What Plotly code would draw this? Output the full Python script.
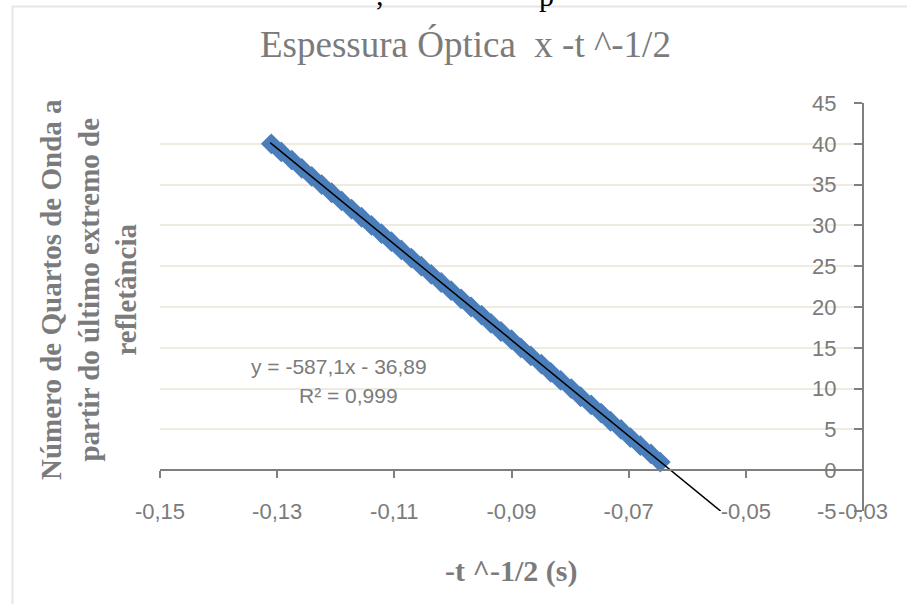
import plotly.graph_objects as go

# ---- data ----
quartos = [1, 2, 3, 4, 5, 6, 7, 8, 9, 10, 11, 12, 13, 14, 15, 16, 17, 18, 19, 20,
           21, 22, 23, 24, 25, 26, 27, 28, 29, 30, 31, 32, 33, 34, 35, 36, 37, 38, 39, 40]
t_inv_sqrt = [-0.0646, -0.0662, -0.0680, -0.0697, -0.0713, -0.0731, -0.0747, -0.0764,
              -0.0782, -0.0798, -0.0816, -0.0833, -0.0849, -0.0867, -0.0884, -0.0900,
              -0.0918, -0.0935, -0.0951, -0.0969, -0.0986, -0.1003, -0.1020, -0.1037,
              -0.1054, -0.1071, -0.1088, -0.1105, -0.1122, -0.1139, -0.1156, -0.1173,
              -0.1190, -0.1207, -0.1224, -0.1241, -0.1258, -0.1275, -0.1293, -0.1310]

trend_slope = -587.1
trend_intercept = -36.89
trend_x = [-0.1312, -0.0543]
trend_y = [trend_slope * v + trend_intercept for v in trend_x]

x_tickvals = [-0.15, -0.13, -0.11, -0.09, -0.07, -0.05, -0.03]
x_ticktext = ["-0,15", "-0,13", "-0,11", "-0,09", "-0,07", "-0,05", "-0,03"]
y_tickvals = [-5, 0, 5, 10, 15, 20, 25, 30, 35, 40, 45]
y_ticktext = ["-5", "0", "5", "10", "15", "20", "25", "30", "35", "40", "45"]

title_text = "Espessura Óptica \u00a0x -t ^-1/2"
x_title = "-t ^-1/2 (s)"
y_title = "Número de Quartos de Onda a<br>partir do último extremo de<br>refletância"
eq_line1 = "y = -587,1x - 36,89"
eq_line2 = "R² = 0,999"

# ---- layout geometry ----
W, H = 907, 604
ML, MR, MT, MB = 160, 44, 103, 93
PW, PH = W - ML - MR, H - MT - MB

def px(xp):
    return (xp - ML) / PW

def py(yp):
    return (H - MB - yp) / PH

GRAY = "#7f7f7f"
TXT = "#7b7b7b"
SANS = "Liberation Sans, Arial, sans-serif"
SERIF = "Liberation Serif, Times New Roman, serif"

fig = go.Figure()
fig.add_trace(go.Scatter(
    x=t_inv_sqrt, y=quartos, mode="markers",
    marker=dict(symbol="diamond", size=16, color="#4A7EBB", line=dict(width=0)),
    showlegend=False, hoverinfo="skip"))
fig.add_trace(go.Scatter(
    x=trend_x, y=trend_y, mode="lines",
    line=dict(color="black", width=1.5),
    showlegend=False, hoverinfo="skip"))

fig.update_layout(
    width=W, height=H,
    margin=dict(l=ML, r=MR, t=MT, b=MB, autoexpand=False),
    paper_bgcolor="white", plot_bgcolor="white",
    showlegend=False,
    xaxis=dict(
        range=[-0.15, -0.03], tickvals=x_tickvals, ticktext=x_ticktext,
        anchor="free", position=0.1,
        showline=True, linecolor=GRAY, linewidth=2,
        ticks="outside", ticklen=7, tickwidth=2, tickcolor=GRAY,
        ticklabelstandoff=14,
        showgrid=False, zeroline=False,
        tickfont=dict(family=SANS, size=22, color=TXT),
    ),
    yaxis=dict(
        range=[-5, 45], tickvals=y_tickvals, ticktext=y_ticktext,
        anchor="free", position=1, side="left",
        showline=True, linecolor=GRAY, linewidth=2,
        ticks="outside", ticklen=8, tickwidth=2, tickcolor=GRAY,
        ticklabelstandoff=13,
        showgrid=True, gridcolor="#EEECE1", gridwidth=1.5,
        zeroline=False,
        tickfont=dict(family=SANS, size=22, color=TXT),
    ),
)

annotations = [
    dict(text=title_text, x=px(465), y=py(44), xref="paper", yref="paper",
         xanchor="center", yanchor="middle", showarrow=False,
         font=dict(family=SERIF, size=37, color=TXT)),
    dict(text="<b>" + x_title + "</b>", x=px(511), y=py(571), xref="paper", yref="paper",
         xanchor="center", yanchor="middle", showarrow=False,
         font=dict(family=SERIF, size=30, color=TXT)),
    dict(text="<b>" + y_title.replace("<br>", "</b><br><b>") + "</b>", x=px(88), y=py(290),
         xref="paper", yref="paper", textangle=-90,
         xanchor="center", yanchor="middle", showarrow=False,
         font=dict(family=SERIF, size=29, color=TXT)),
    dict(text=eq_line1, x=px(249), y=py(366), xref="paper", yref="paper",
         xanchor="left", yanchor="middle", showarrow=False,
         font=dict(family=SANS, size=21, color=TXT)),
    dict(text=eq_line2, x=px(348), y=py(395), xref="paper", yref="paper",
         xanchor="center", yanchor="middle", showarrow=False,
         font=dict(family=SANS, size=21, color=TXT)),
    dict(text=",", x=px(380), y=py(13), xref="paper", yref="paper",
         xanchor="center", yanchor="bottom", showarrow=False,
         font=dict(family=SERIF, size=30, color="black")),
    dict(text="p", x=px(546), y=py(14), xref="paper", yref="paper",
         xanchor="center", yanchor="bottom", showarrow=False,
         font=dict(family=SERIF, size=30, color="black")),
]
fig.update_layout(annotations=annotations)

fig.add_shape(type="rect", xref="paper", yref="paper",
              x0=px(12.5), x1=px(940), y0=py(640), y1=py(6.5),
              line=dict(color="#E6E6E6", width=2), fillcolor="rgba(0,0,0,0)",
              layer="below")

fig.write_html("out.html")
